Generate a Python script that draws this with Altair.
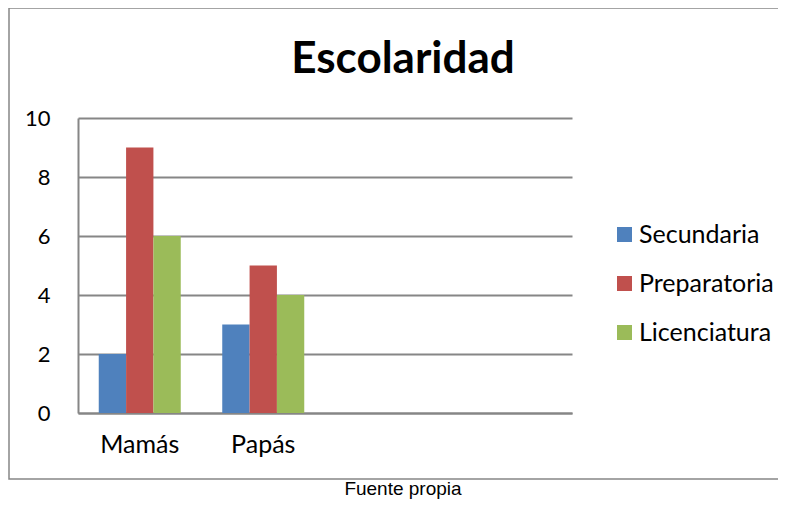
import altair as alt
import pandas as pd

categories = ["Mamás", "Papás", " ", "  "]
series = ["Secundaria", "Preparatoria", "Licenciatura"]
secundaria = [2, 3]
preparatoria = [9, 5]
licenciatura = [6, 4]
colors = ["#4F81BD", "#C0504D", "#9BBB59"]
title_text = "Escolaridad"
source_text = "Fuente propia"

rows = []
for s, vals in zip(series, [secundaria, preparatoria, licenciatura]):
    for c, v in zip(categories, vals):
        rows.append({"grupo": c, "nivel": s, "valor": v})
df = pd.DataFrame(rows)

FONT = "Lato"

bars = alt.Chart(df).mark_bar(opacity=1).encode(
    x=alt.X("grupo:N", sort=categories,
            scale=alt.Scale(domain=categories, paddingInner=0.336, paddingOuter=0.168),
            axis=alt.Axis(title=None, labelAngle=0, labelFontSize=25, labelFont=FONT,
                          labelColor="#000000", ticks=False, labelPadding=19,
                          domainColor="#868686", domainWidth=2, grid=False)),
    xOffset=alt.XOffset("nivel:N", sort=series, scale=alt.Scale(domain=series, paddingInner=0, paddingOuter=0)),
    y=alt.Y("valor:Q", scale=alt.Scale(domain=[0, 10], nice=False),
            axis=alt.Axis(title=None, values=[0, 2, 4, 6, 8, 10], labelFontSize=22, labelFont=FONT,
                          labelColor="#000000", ticks=False, labelPadding=28,
                          domainColor="#868686", domainWidth=2,
                          gridColor="#868686", gridWidth=2)),
    color=alt.Color("nivel:N", sort=series,
                    scale=alt.Scale(domain=series, range=colors),
                    legend=alt.Legend(title=None, orient="none", legendX=534, legendY=104,
                                      symbolType="square", symbolSize=225, symbolStrokeWidth=0,
                                      labelFontSize=25, labelFont=FONT, labelColor="#000000",
                                      rowPadding=23, labelOffset=2)),
)

frame = alt.Chart(pd.DataFrame({"k": [0]})).mark_rect(
    fill=None, stroke="#868686", strokeWidth=1.5
).encode(x=alt.value(-69), x2=alt.value(730), y=alt.value(-110), y2=alt.value(361))

title = alt.Chart(pd.DataFrame({"t": [title_text]})).mark_text(
    font=FONT, fontSize=44, fontWeight="bold", color="#000000", align="center", baseline="alphabetic"
).encode(text="t:N", x=alt.value(325), y=alt.value(-45))

source = alt.Chart(pd.DataFrame({"t": [source_text]})).mark_text(
    font="Liberation Sans", fontSize=19, color="#000000", align="center", baseline="alphabetic"
).encode(text="t:N", x=alt.value(325), y=alt.value(377))

chart = alt.layer(frame, bars, title, source).properties(
    width=494, height=295,
    autosize=alt.AutoSizeParams(type="none"),
    padding={"left": 70, "top": 110, "right": 206, "bottom": 86},
).configure_view(stroke=None)

chart.save("out.html", embed_options={"renderer": "svg", "actions": False})
